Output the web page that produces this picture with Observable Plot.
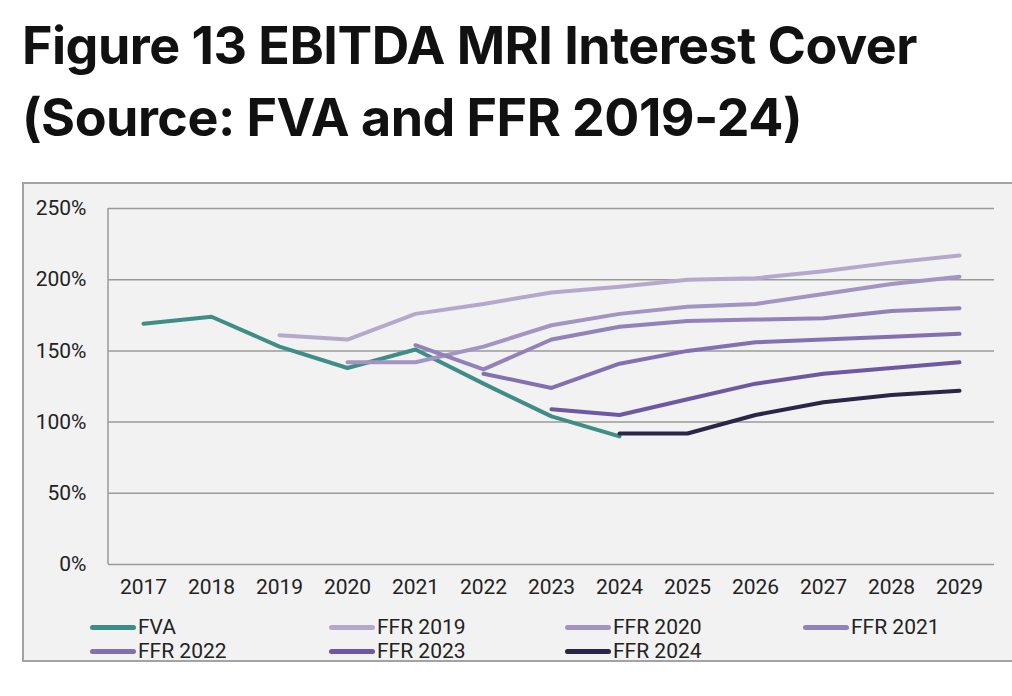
<!DOCTYPE html>
<html>
<head>
<meta charset="utf-8">
<script src="https://cdn.jsdelivr.net/npm/d3@7"></script>
<script src="https://cdn.jsdelivr.net/npm/@observablehq/plot@0.6"></script>
<style>
  html, body { margin: 0; padding: 0; background: #fff; width: 1012px; height: 696px; overflow: hidden; }
  #title { position: absolute; left: 22px; top: 10px; font-family: Inter, "Open Sans", sans-serif; font-weight: 700; font-size: 52px; line-height: 72px; color: #111; letter-spacing: -0.5px; white-space: nowrap; }
  #box { position: absolute; left: 22px; top: 182px; width: 1000px; height: 480px; background: #f2f2f2; border: 2px solid #a3a3a3; box-sizing: border-box; }
  #chart { position: absolute; left: 0; top: 182px; }
  .leg { position: absolute; font-family: Roboto, sans-serif; font-size: 21px; color: #222; line-height: 24px; display: flex; align-items: center; white-space: nowrap; }
  .leg .sw { width: 46px; height: 5px; border-radius: 3px; margin-right: 2px; }
</style>
</head>
<body>
<div id="title">Figure 13 EBITDA MRI Interest Cover<br>(Source: FVA and FFR 2019-24)</div>
<div id="box"></div>
<div id="chart"></div>
<div id="legend"></div>
<script>
const years = [2017, 2018, 2019, 2020, 2021, 2022, 2023, 2024, 2025, 2026, 2027, 2028, 2029];
const seriesNames = ["FVA", "FFR 2019", "FFR 2020", "FFR 2021", "FFR 2022", "FFR 2023", "FFR 2024"];
const seriesColors = ["#3e8d86", "#b4a9cd", "#a394c3", "#9382b9", "#8370b0", "#6d58a1", "#2c2548"];
const fva     = [169, 174, 153, 138, 151, 127, 104, 90, null, null, null, null, null];
const ffr2019 = [null, null, 161, 158, 176, 183, 191, 195, 200, 201, 206, 212, 217];
const ffr2020 = [null, null, null, 142, 142, 153, 168, 176, 181, 183, 190, 197, 202];
const ffr2021 = [null, null, null, null, 154, 137, 158, 167, 171, 172, 173, 178, 180];
const ffr2022 = [null, null, null, null, null, 134, 124, 141, 150, 156, 158, 160, 162];
const ffr2023 = [null, null, null, null, null, null, 109, 105, 116, 127, 134, 138, 142];
const ffr2024 = [null, null, null, null, null, null, null, 92, 92, 105, 114, 119, 122];
const yTicks = [0, 50, 100, 150, 200, 250];

const seriesValues = [fva, ffr2019, ffr2020, ffr2021, ffr2022, ffr2023, ffr2024];
const data = [];
seriesNames.forEach((name, i) => {
  years.forEach((yr, j) => {
    const v = seriesValues[i][j];
    if (v != null) data.push({series: name, year: yr, value: v});
  });
});

const chart = Plot.plot({
  width: 1012,
  height: 420,
  marginLeft: 108,
  marginRight: 18,
  marginTop: 26,
  marginBottom: 38,
  style: {background: "transparent", fontFamily: "Roboto, sans-serif", fontSize: "21px", color: "#222"},
  x: {type: "point", domain: years, padding: 0.5, label: null},
  y: {domain: [0, 250], label: null},
  color: {domain: seriesNames, range: seriesColors},
  marks: [
    Plot.ruleY(yTicks, {stroke: "#9a9a9a", strokeWidth: 1.5}),
    Plot.axisX({tickSize: 0, tickPadding: 15, fontSize: 21, tickFormat: d => String(d), label: null}),
    Plot.axisY(yTicks, {tickSize: 0, tickPadding: 22, fontSize: 21, tickFormat: d => d + "%", label: null}),
    Plot.line(data, {x: "year", y: "value", z: "series", stroke: "series", strokeWidth: 4, strokeLinecap: "round", strokeLinejoin: "round"})
  ]
});
document.getElementById("chart").appendChild(chart);

// left axis line from the y scale
const ys = chart.scale("y");
const svg = d3.select(chart);
svg.append("line")
  .attr("x1", 108).attr("x2", 108)
  .attr("y1", ys.apply(250)).attr("y2", ys.apply(0))
  .attr("stroke", "#9a9a9a").attr("stroke-width", 1.5);
svg.selectAll("text").attr("fill", "#222");

// legend
const legend = document.getElementById("legend");
const colX = [90, 329, 565, 803];
const rowY = [615, 639];
seriesNames.forEach((name, i) => {
  const d = document.createElement("div");
  d.className = "leg";
  d.style.left = colX[i % 4] + "px";
  d.style.top = rowY[Math.floor(i / 4)] + "px";
  d.innerHTML = `<span class="sw" style="background:${seriesColors[i]}"></span><span>${name}</span>`;
  legend.appendChild(d);
});
</script>
</body>
</html>
